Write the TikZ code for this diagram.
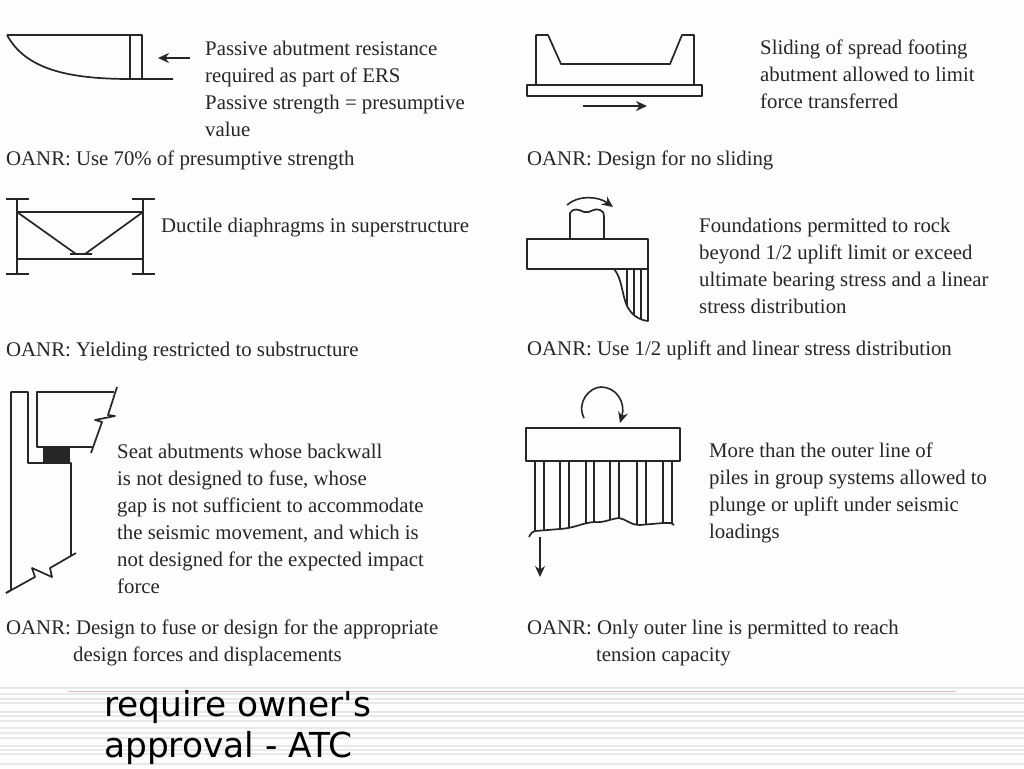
\documentclass[tikz,border=0pt]{standalone}
\usepackage{fontspec}
\setmainfont{Liberation Serif}
\newfontfamily\slidefont{DejaVu Sans}
\usetikzlibrary{arrows.meta}
\definecolor{ink}{RGB}{38,38,38}
\definecolor{paper}{RGB}{253,253,253}
\definecolor{stripe}{RGB}{232,232,232}
\definecolor{rulered}{RGB}{214,190,190}
\tikzset{
  lbl/.style={anchor=north west,inner sep=0pt,align=left,text=ink,
    font=\fontsize{20.8}{27}\selectfont},
  title/.style={anchor=north west,inner sep=0pt,align=left,text=black,
    font=\slidefont\fontsize{34.4}{41}\selectfont},
  part/.style={draw=ink,line width=1.7pt,line join=round},
  thin/.style={draw=ink,line width=1.4pt},
  arr/.style={draw=ink,line width=1.6pt,-{Stealth[length=11pt,width=10pt]}},
}
\begin{document}
\begin{tikzpicture}[x=1pt,y=-1pt]
  \useasboundingbox (0,0) rectangle (1024,768);
  \fill[paper] (0,0) rectangle (1024,768);
  \draw[stripe,line width=1.3pt] (0,688) -- (1024,688);
  \foreach \yy in {694,699,703,712,716,721,728,733,738,746,750,754,764}
    \draw[stripe,line width=1.3pt] (0,\yy) -- (1024,\yy);
  \draw[rulered,line width=1pt] (68,691) -- (956,691);

  % passive abutment
  \draw[part] (7,35) -- (142,35) -- (142,79) -- (130,79) -- (130,35);
  \draw[part] (7,35) .. controls (25,68) and (65,79) .. (130,79) -- (173,79);
  \coordinate (pushS) at (190,58);
  \coordinate (pushE) at (158,58);
  \draw[arr] (pushS) -- (pushE);
  \node[lbl] (passive) at (205,40.5) {Passive abutment resistance\\required as part of ERS\\Passive strength = presumptive\\value};
  \node[lbl] (oanrA) at (6,151) {OANR: Use 70\% of presumptive strength};

  % diaphragm
  \draw[part] (6,199) -- (29,199) (17,199) -- (17,274) (6,274) -- (29,274);
  \draw[part] (132,199) -- (155,199) (143,199) -- (143,274) (132,274) -- (155,274);
  \draw[part] (17,212) -- (143,212) (17,259) -- (143,259);
  \draw[part] (17,212) -- (76,254) (143,212) -- (85,254) (70,254) -- (92,254);
  \node[lbl] (ductile) at (161,218) {Ductile diaphragms in superstructure};
  \node[lbl] (oanrB) at (6,342) {OANR: Yielding restricted to substructure};

  % seat abutment
  \draw[part] (6,593) -- (11,590) -- (11,392) -- (28,392) -- (28,463) -- (71,463) -- (71,555);
  \draw[part] (76,553) -- (50,568) -- (52,577) -- (32,568) -- (35,577) -- (6,593);
  \draw[part] (117,387) -- (108,415) -- (115,416) -- (95,420) -- (102,422) -- (91,453);
  \draw[part] (114,392) -- (37,392) -- (37,447) -- (92,447);
  \fill[black!85] (43,447) rectangle (70,463);
  \node[lbl] (seat) at (117,444) {Seat abutments whose backwall\\is not designed to fuse, whose\\gap is not sufficient to accommodate\\the seismic movement, and which is\\not designed for the expected impact\\force};
  \node[lbl] (oanrC) at (6,620) {OANR: Design to fuse or design for the appropriate\\\hspace*{67pt}design forces and displacements};

  % spread footing
  \draw[part] (536,85) -- (536,35) -- (548,35) -- (561,64) -- (670,64) -- (682,35) -- (694,35) -- (694,85);
  \draw[part] (527,85) rectangle (702,96);
  \coordinate (slideS) at (583,106);
  \coordinate (slideE) at (647,106);
  \draw[arr] (slideS) -- (slideE);
  \node[lbl] (sliding) at (760,39.5) {Sliding of spread footing\\abutment allowed to limit\\force transferred};
  \node[lbl] (oanrD) at (527,151) {OANR: Design for no sliding};

  % rocking foundation
  \draw[part] (527,239) rectangle (648,269);
  \draw[part] (570,239) -- (570,213) .. controls (573,208) and (578,209) .. (584,212) .. controls (590,214) and (594,207) .. (600,210) .. controls (603,211) and (604,213) .. (604,216) -- (604,239);
  \draw[part] (614,269) .. controls (622,278) and (622,295) .. (627,306) .. controls (631,314) and (638,320) .. (648,321) -- (648,269);
  \draw[thin] (627,269) -- (627,306) (634,269) -- (634,315) (641,269) -- (641,319);
  \coordinate (rockS) at (567,205);
  \coordinate (rockE) at (613,207);
  \draw[arr] (rockS) .. controls (578,195) and (598,196) .. (rockE);
  \node[lbl] (rocking) at (699,218) {Foundations permitted to rock\\beyond 1/2 uplift limit or exceed\\ultimate bearing stress and a linear\\stress distribution};
  \node[lbl] (oanrE) at (527,341) {OANR: Use 1/2 uplift and linear stress distribution};

  % pile group
  \draw[part] (526,428) rectangle (680,461);
  \foreach \px/\py in {535/531,544/530,560/529,569/527,586/523,594/522,610/520,619/518,637/525,646/525,663/523,672/523}
    \draw[part] (\px,461) -- (\px,\py);
  \draw[part] (529,537) .. controls (531,533) and (533,531) .. (535,531) -- (560,529) .. controls (575,528) and (582,523) .. (594,522) .. controls (604,523) and (610,519) .. (619,518) .. controls (626,519) and (630,525) .. (640,525) -- (663,523) -- (671,523) -- (674,525);
  \coordinate (plungeS) at (540,537);
  \coordinate (plungeE) at (540,577);
  \draw[arr] (plungeS) -- (plungeE);
  \coordinate (momentS) at (584,418);
  \coordinate (momentE) at (620,423);
  \draw[arr] (momentS) .. controls (576,402) and (590,387) .. (601,387) .. controls (616,387) and (626,402) .. (momentE);
  \node[lbl] (piles) at (709,443) {More than the outer line of\\piles in group systems allowed to\\plunge or uplift under seismic\\loadings};
  \node[lbl] (oanrF) at (527,620) {OANR: Only outer line is permitted to reach\\\hspace*{69pt}tension capacity};

  \node[title] (require) at (104,690) {require owner's\\approval - ATC};
\end{tikzpicture}
\end{document}
